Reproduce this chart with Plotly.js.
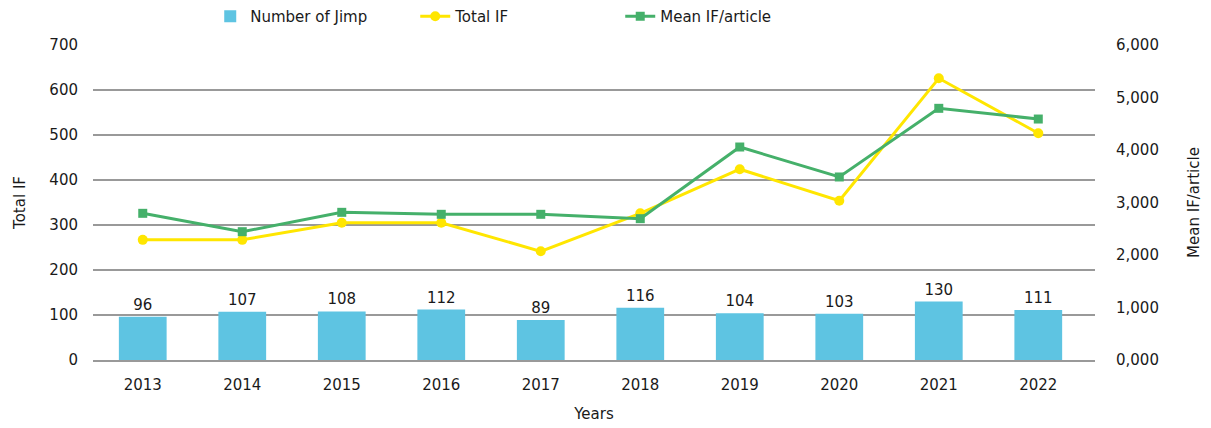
<!DOCTYPE html>
<html>
<head>
<meta charset="utf-8">
<script src="https://cdn.plot.ly/plotly-3.0.1.min.js"></script>
<style>html,body{margin:0;padding:0;background:#fff;}#chart{width:1211px;height:428px;}</style>
</head>
<body>
<div id="chart"></div>
<script>
const years = ['2013','2014','2015','2016','2017','2018','2019','2020','2021','2022'];
const numberOfJimp = [96, 107, 108, 112, 89, 116, 104, 103, 130, 111];
const totalIF = [267, 267, 305, 305, 241.5, 326, 424, 354, 626, 504];
const meanIF = [2.794, 2.444, 2.813, 2.775, 2.775, 2.692, 4.057, 3.486, 4.794, 4.590];

const font = '"DejaVu Sans", sans-serif';
const textColor = '#1a1a1a';
const fs = 15;

const traces = [
  {
    type: 'bar', name: 'Number of Jimp', x: years, y: numberOfJimp,
    marker: {color: '#5EC4E2'}, width: 0.48,
    text: numberOfJimp.map(String), textposition: 'outside', cliponaxis: false,
    textfont: {family: font, size: fs, color: textColor},
    yaxis: 'y'
  },
  {
    type: 'scatter', mode: 'lines+markers', name: 'Total IF', x: years, y: totalIF,
    line: {color: '#FFE600', width: 3}, marker: {symbol: 'circle', size: 10, color: '#FFE600'},
    yaxis: 'y'
  },
  {
    type: 'scatter', mode: 'lines+markers', name: 'Mean IF/article', x: years, y: meanIF,
    line: {color: '#45B06A', width: 3}, marker: {symbol: 'square', size: 9, color: '#45B06A'},
    yaxis: 'y2'
  }
];

const layout = {
  width: 1211, height: 428,
  margin: {l: 93, r: 116, t: 45, b: 68},
  paper_bgcolor: '#fff', plot_bgcolor: '#fff',
  separators: ',.',
  font: {family: font, size: fs, color: textColor},
  showlegend: true,
  legend: {orientation: 'h', x: 0.117, xanchor: 'left', y: 1, yref: 'container', yanchor: 'top',
           font: {family: font, size: fs, color: textColor}, itemwidth: 30, entrywidth: 160,
           traceorder: 'normal'},
  xaxis: {
    type: 'category', range: [-0.5, 9.57], automargin: false, showgrid: false, showline: true,
    linecolor: '#999', linewidth: 2,
    ticks: '', ticklabelstandoff: 10,
    tickfont: {family: font, size: fs, color: textColor},
    title: {text: 'Years', font: {family: font, size: fs, color: textColor}, standoff: 15}
  },
  yaxis: {
    range: [0, 700], dtick: 100, automargin: false, showgrid: true, gridcolor: '#999', gridwidth: 2,
    zeroline: false, showline: false, ticks: '', ticklabelstandoff: 14,
    tickfont: {family: font, size: fs, color: textColor},
    title: {text: 'Total IF', font: {family: font, size: fs, color: textColor}, standoff: 20}
  },
  yaxis2: {
    range: [0, 6], dtick: 1, tickformat: '.3f', overlaying: 'y', side: 'right', automargin: false,
    showgrid: false, zeroline: false, showline: false, ticks: '', ticklabelstandoff: 20,
    tickfont: {family: font, size: fs, color: textColor},
    title: {text: 'Mean IF/article', font: {family: font, size: fs, color: textColor}, standoff: 30}
  }
};

Plotly.newPlot('chart', traces, layout, {displayModeBar: false, staticPlot: true});
</script>
</body>
</html>
